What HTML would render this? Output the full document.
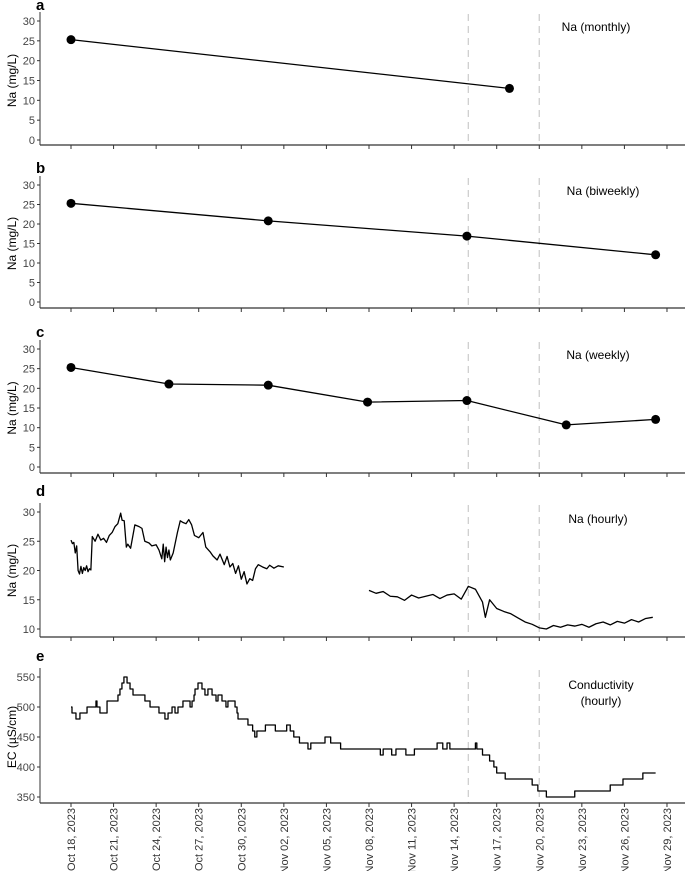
<!DOCTYPE html>
<html><head><meta charset="utf-8">
<style>
html,body{margin:0;padding:0;background:#fff;overflow:hidden;}
svg{display:block;font-family:"Liberation Sans",Arial,sans-serif;}
</style></head>
<body>
<svg id="chart" width="685" height="871" viewBox="0 0 685 871" xmlns="http://www.w3.org/2000/svg"></svg>
<script>
// ---- data (day offsets from Oct 18, 2023) ----
const tickLabels = ["Oct 18, 2023","Oct 21, 2023","Oct 24, 2023","Oct 27, 2023","Oct 30, 2023","Nov 02, 2023","Nov 05, 2023","Nov 08, 2023","Nov 11, 2023","Nov 14, 2023","Nov 17, 2023","Nov 20, 2023","Nov 23, 2023","Nov 26, 2023","Nov 29, 2023"];
const tickDays = [0,3,6,9,12,15,18,21,24,27,30,33,36,39,42];
const dashedDays = [28,33];
const monthlyDays = [0,30.9];
const monthlyVals = [25.3,13.0];
const biweeklyDays = [0,13.9,27.9,41.2];
const biweeklyVals = [25.3,20.8,16.9,12.1];
const weeklyDays = [0,6.9,13.9,20.9,27.9,34.9,41.2];
const weeklyVals = [25.3,21.1,20.8,16.5,16.9,10.7,12.1];
const hourly1Days = [0,0.1,0.2,0.3,0.4,0.5,0.6,0.7,0.8,0.9,1.0,1.1,1.2,1.3,1.4,1.5,1.7,1.9,2.1,2.3,2.5,2.7,2.9,3.1,3.3,3.5,3.6,3.75,3.9,4.0,4.2,4.5,4.8,5.0,5.2,5.5,5.7,6.0,6.2,6.4,6.5,6.6,6.7,6.8,6.9,7.0,7.2,7.5,7.7,7.9,8.1,8.3,8.5,8.7,9.0,9.3,9.5,9.8,10.0,10.3,10.5,10.8,11.0,11.2,11.4,11.6,11.8,12.0,12.2,12.4,12.6,12.8,13.0,13.2,13.5,13.8,14.0,14.3,14.6,15.0];
const hourly1Vals = [25.2,24.6,24.8,23.0,24.2,20.0,19.4,20.7,19.5,20.5,20.0,20.8,19.8,20.3,20.1,25.8,25.0,26.2,25.2,25.5,24.8,26.0,26.5,27.5,28.0,29.8,28.6,28.5,24.0,24.5,23.8,27.8,27.5,27.2,25.0,24.7,24.2,24.4,23.5,22.0,24.5,21.5,24.0,22.2,23.5,21.8,23.0,26.5,28.5,28.2,28.0,28.7,27.8,26.0,25.6,26.5,24.0,23.2,22.5,21.8,22.8,21.0,22.4,20.6,21.2,19.5,20.8,18.5,19.8,17.7,18.6,18.3,20.3,21.0,20.6,20.3,20.9,20.4,20.8,20.6];
const hourly2Days = [21,21.5,22,22.5,23,23.5,24,24.5,25,25.5,26,26.5,27,27.5,28,28.5,29,29.2,29.5,30,30.5,31,31.5,32,32.5,33,33.5,34,34.5,35,35.5,36,36.5,37,37.5,38,38.5,39,39.5,40,40.5,41];
const hourly2Vals = [16.6,16.1,16.4,15.6,15.5,14.9,15.8,15.3,15.6,15.9,15.2,15.8,16.0,15.1,17.3,16.8,14.6,12.0,15.0,13.5,13.0,12.6,11.9,11.2,10.8,10.2,10.0,10.6,10.3,10.7,10.5,10.8,10.3,10.9,11.2,10.7,11.3,11.0,11.6,11.2,11.8,12.0];
const ecDays = [0,0.07,0.35,0.63,0.78,1.13,1.76,1.83,2.04,2.54,3.31,3.45,3.59,3.73,3.95,4.16,4.37,5.21,5.57,6.20,6.62,6.84,7.12,7.33,7.54,7.89,8.39,8.53,8.67,8.74,8.95,9.23,9.44,9.65,9.94,10.22,10.36,10.64,10.92,11.06,11.56,11.70,11.77,12.47,12.8,12.95,13.1,13.7,14.4,15.2,15.45,15.7,16.1,16.7,16.9,17.9,18.3,19.0,21.8,22.0,22.6,22.9,23.6,24.2,25.8,26.2,26.5,26.7,28.5,28.6,29.0,29.5,29.8,30.0,30.6,32.5,32.9,33.5,35.5,38.0,38.9,40.3,41.2];
const ecVals = [500,490,480,490,490,500,510,500,490,510,520,530,540,550,540,530,520,510,500,490,480,490,500,490,500,510,500,510,520,530,540,530,520,530,520,510,520,510,500,510,500,490,480,470,460,450,460,470,460,470,460,450,440,430,440,450,440,430,420,430,420,430,420,430,440,430,440,430,440,430,420,410,400,390,380,370,360,350,360,370,380,390,390];

const svg = document.getElementById('chart');
const NS = 'http://www.w3.org/2000/svg';
function mk(tag, attrs, parent){const e=document.createElementNS(NS,tag);for(const k in attrs)e.setAttribute(k,attrs[k]);(parent||svg).appendChild(e);return e;}
const X0 = 71, PXD = 14.19, AXL = 40;
const xs = d => X0 + d*PXD;

const panels = [
 {id:'a', ly0:10, top:21, bottom:140, axis:145, min:0, max:30, ticks:[0,5,10,15,20,25,30], title:'Na (mg/L)', label:['Na (monthly)'], lx:596, ly:31},
 {id:'b', ly0:173, top:185, bottom:302, axis:308, min:0, max:30, ticks:[0,5,10,15,20,25,30], title:'Na (mg/L)', label:['Na (biweekly)'], lx:603, ly:195},
 {id:'c', ly0:337, top:349, bottom:467, axis:473, min:0, max:30, ticks:[0,5,10,15,20,25,30], title:'Na (mg/L)', label:['Na (weekly)'], lx:598, ly:359},
 {id:'d', ly0:496, top:512, bottom:629, axis:637, min:10, max:30, ticks:[10,15,20,25,30], title:'Na (mg/L)', label:['Na (hourly)'], lx:598, ly:523},
 {id:'e', ly0:661, top:677, bottom:797, axis:803, min:350, max:550, ticks:[350,400,450,500,550], title:'EC (µS/cm)', label:['Conductivity','(hourly)'], lx:601, ly:689}
];

panels.forEach((p,pi)=>{
 const g = mk('g',{});
 
 
 const ys = v => p.bottom - (v-p.min)/(p.max-p.min)*(p.bottom-p.top);
 const lt = mk('text',{x:36,y:p.ly0,'font-size':15,'font-weight':'bold',fill:'#000'},g);
 lt.textContent=p.id;
 
 
 dashedDays.forEach(d=>{
  const l=mk('line',{x1:xs(d),x2:xs(d),y1:p.top-7,y2:p.axis,stroke:'#cfcfcf','stroke-width':1.3,'stroke-dasharray':'7,5'},g);
  
  
 });
 const ya=mk('line',{x1:AXL,x2:AXL,y1:p.top-9,y2:p.axis,stroke:'#333','stroke-width':1},g);
 
 
 const xa=mk('line',{x1:AXL,x2:685,y1:p.axis,y2:p.axis,stroke:'#333','stroke-width':1.2},g);
 
 
 p.ticks.forEach(t=>{
  mk('line',{x1:AXL-3,x2:AXL,y1:ys(t),y2:ys(t),stroke:'#333'},g);
  const tx=mk('text',{x:AXL-5,y:ys(t)+4,'font-size':11,'text-anchor':'end',fill:'#444'},g);
  tx.textContent=t;
  
  
 });
 tickDays.forEach(d=>{mk('line',{x1:xs(d),x2:xs(d),y1:p.axis,y2:p.axis+4,stroke:'#333'},g);});
 const cy=(p.top+p.bottom)/2;
 const yt=mk('text',{x:16,y:cy,'font-size':12,'text-anchor':'middle',fill:'#000',transform:`rotate(-90 16 ${cy})`},g);
 yt.textContent=p.title;
 
 
 p.label.forEach((s,i)=>{
  const t=mk('text',{x:p.lx,y:p.ly+i*16,'font-size':12,'text-anchor':'middle',fill:'#000'},g);
  t.textContent=s;
  
  
 });
 function line(days,vals,name,step){
  let d='';
  days.forEach((dd,i)=>{
   const x=xs(dd),y=ys(vals[i]);
   if(i===0)d+=`M${x},${y}`;
   else if(step)d+=`H${x}V${y}`;
   else d+=`L${x},${y}`;
  });
  const pa=mk('path',{d,fill:'none',stroke:'#000','stroke-width':1.3,'stroke-linejoin':'round'},g);
  
  
 }
 function pts(days,vals){
  days.forEach((dd,i)=>{
   const c=mk('circle',{cx:xs(dd),cy:ys(vals[i]),r:4.5,fill:'#000'},g);
   
   
  });
 }
 if(p.id==='a'){line(monthlyDays,monthlyVals,'monthly-line');pts(monthlyDays,monthlyVals);}
 if(p.id==='b'){line(biweeklyDays,biweeklyVals,'biweekly-line');pts(biweeklyDays,biweeklyVals);}
 if(p.id==='c'){line(weeklyDays,weeklyVals,'weekly-line');pts(weeklyDays,weeklyVals);}
 if(p.id==='d'){line(hourly1Days,hourly1Vals,'hourly-line-1');line(hourly2Days,hourly2Vals,'hourly-line-2');}
 if(p.id==='e'){line(ecDays,ecVals,'conductivity-line',true);}
});
tickDays.forEach((d,i)=>{
 const x=xs(d)+4, y=808;
 const t=mk('text',{x:x,y:y,'font-size':11,'text-anchor':'end',fill:'#333',transform:`rotate(-90 ${x} ${y})`});
 t.textContent=tickLabels[i];
 
 
});
</script>
</body></html>
